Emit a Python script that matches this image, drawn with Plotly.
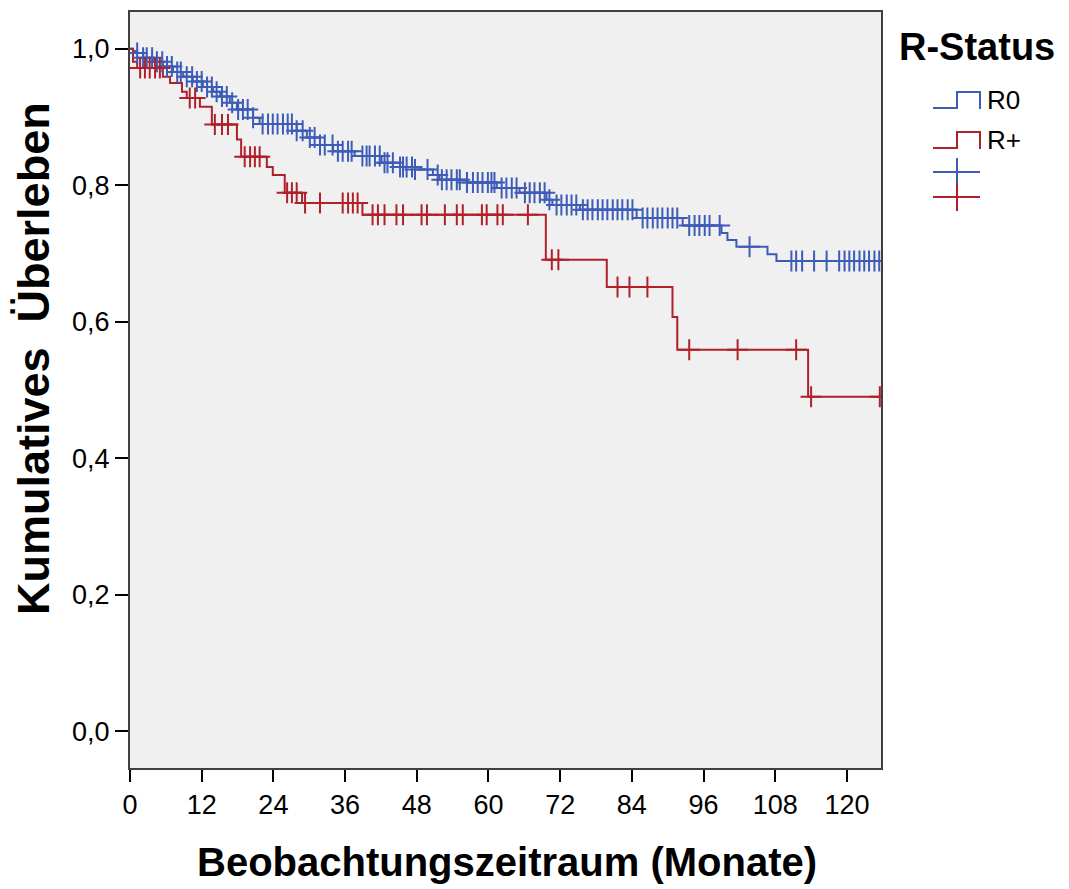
import numpy as np
import plotly.graph_objects as go

# ---- data (months, cumulative survival) ----
r0_times = [0, 0.5, 1.2, 2.2, 3.9, 5.5, 7.2, 8.9, 10.5, 12.2, 13.9, 15.1, 16.7, 17.9,
            20.6, 21.7, 27.9, 29.6, 31.8, 34.0, 37.6, 42.1, 45.2, 47.7, 50.7, 51.8,
            56.4, 61.4, 65.2, 69.7, 70.7, 75.3, 84.8, 92.5, 99.0, 100.0, 101.5,
            106.7, 108.2]
r0_surv = [1.0, 0.997, 0.994, 0.987, 0.981, 0.974, 0.966, 0.959, 0.952, 0.944, 0.937,
           0.930, 0.921, 0.911, 0.899, 0.890, 0.880, 0.870, 0.859, 0.850, 0.843, 0.833,
           0.827, 0.823, 0.815, 0.808, 0.804, 0.796, 0.789, 0.779, 0.771, 0.764, 0.752,
           0.741, 0.730, 0.720, 0.710, 0.699, 0.689]
r0_censored = [1.2, 2.2, 2.8, 3.7, 4.5, 5.4, 6.2, 7.0, 7.9, 8.5, 9.5, 10.4, 11.2, 12.0,
               12.9, 13.7, 14.5, 15.4, 16.2, 17.1, 18.1, 18.9, 19.7, 20.6, 22.2, 23.1,
               23.9, 24.7, 25.6, 26.4, 27.1, 27.9, 28.9, 30.1, 30.9, 31.8, 32.6, 33.9,
               34.8, 35.6, 36.5, 37.1, 38.9, 39.6, 40.1, 41.0, 41.8, 42.6, 43.1, 44.0,
               45.2, 45.7, 46.3, 47.2, 47.7, 49.8, 51.5, 52.2, 53.0, 53.8, 54.7, 55.2,
               56.4, 57.4, 58.2, 59.0, 59.9, 60.5, 61.0, 62.2, 63.0, 63.9, 64.7, 66.1,
               66.9, 67.7, 68.6, 69.4, 70.2, 71.4, 72.2, 73.1, 73.9, 74.7, 75.8, 76.6,
               77.4, 78.3, 79.1, 79.9, 80.8, 81.6, 82.4, 83.3, 84.1, 85.8, 86.6, 87.5,
               88.3, 89.1, 90.0, 90.8, 91.6, 93.6, 94.5, 95.3, 96.2, 97.0, 98.7, 103.7,
               110.7, 111.5, 112.5, 114.5, 116.6, 118.7, 119.6, 120.4, 121.2, 122.1,
               122.9, 123.7, 124.6, 125.4]

rp_times = [0, 0.5, 1.2, 5.5, 6.7, 8.7, 9.5, 11.7, 13.7, 17.9, 18.6, 22.9, 23.9, 25.9,
            28.8, 38.9, 69.6, 79.8, 90.8, 91.6, 113.5]
rp_surv = [1.0, 0.981, 0.972, 0.959, 0.950, 0.937, 0.928, 0.915, 0.889, 0.867, 0.842,
           0.827, 0.815, 0.789, 0.774, 0.757, 0.691, 0.651, 0.607, 0.559, 0.490]
rp_censored = [1.7, 2.5, 3.3, 4.2, 5.0, 10.0, 10.9, 14.2, 15.4, 16.4, 19.2, 20.1, 20.9,
               21.7, 26.3, 27.1, 27.9, 29.3, 31.8, 35.6, 36.5, 37.3, 38.1, 40.6, 41.5,
               42.6, 44.6, 45.7, 48.8, 49.7, 52.7, 54.7, 55.7, 58.9, 59.7, 61.5, 62.4,
               66.6, 70.6, 71.7, 81.6, 83.6, 86.6, 93.6, 101.7, 111.5, 114.0, 125.5]

groups = ["R0", "R+"]
follow_up_end = 125.5
x_ticks = [0, 12, 24, 36, 48, 60, 72, 84, 96, 108, 120]
y_ticks = [0.0, 0.2, 0.4, 0.6, 0.8, 1.0]
y_labels = ["0,0", "0,2", "0,4", "0,6", "0,8", "1,0"]

BLUE = "#3D5CB8"
RED = "#B0202A"
FONT = "Liberation Sans, Arial, sans-serif"

# figure geometry (page has an 8px body margin)
W, H = 1061, 881
ML, MR, MT, MB = 122, 188, 4, 121
PW, PH = W - ML - MR, H - MT - MB
OFF = 8


def px(x):  # page pixel -> paper x
    return (x - OFF - ML) / PW


def py(y):  # page pixel -> paper y
    return (H - MB - (y - OFF)) / PH


def step_value(times, surv, t):
    idx = np.searchsorted(np.asarray(times), np.asarray(t), side="right") - 1
    return np.asarray(surv)[idx]


fig = go.Figure()
for name, times, surv, col in [(groups[0], r0_times, r0_surv, BLUE),
                               (groups[1], rp_times, rp_surv, RED)]:
    fig.add_trace(go.Scatter(
        x=list(times) + [follow_up_end], y=list(surv) + [surv[-1]],
        mode="lines", line=dict(color=col, width=2, shape="hv"),
        name=name, showlegend=False))

for name, times, surv, cens, col in [(groups[0], r0_times, r0_surv, r0_censored, BLUE),
                                     (groups[1], rp_times, rp_surv, rp_censored, RED)]:
    fig.add_trace(go.Scatter(
        x=cens, y=step_value(times, surv, cens), mode="markers",
        marker=dict(symbol="cross-thin", size=15, color=col,
                    line=dict(color=col, width=2)),
        name=name + " zensiert", showlegend=False))

# ---- manual SPSS-style legend ----
ann = [dict(text="<b>R-Status</b>", x=px(897), y=py(47), xref="paper", yref="paper",
            xanchor="left", yanchor="middle", showarrow=False,
            font=dict(size=38, family=FONT, color="black"))]
shapes = []
for i, (name, col) in enumerate(zip(groups, [BLUE, RED])):
    yc = [100, 140][i]
    path_pts = [(933, yc + 8), (957, yc + 8), (957, yc - 8), (980, yc - 8), (980, yc + 9)]
    path = "M " + " L ".join(f"{px(a)},{py(b)}" for a, b in path_pts)
    shapes.append(dict(type="path", path=path, xref="paper", yref="paper",
                       line=dict(color=col, width=2)))
    ann.append(dict(text=name, x=px(985), y=py(yc), xref="paper", yref="paper",
                    xanchor="left", yanchor="middle", showarrow=False,
                    font=dict(size=26, family=FONT, color="black")))
for i, col in enumerate([BLUE, RED]):
    yc = [172, 197][i]
    shapes.append(dict(type="line", x0=px(933), x1=px(980), y0=py(yc), y1=py(yc),
                       xref="paper", yref="paper", line=dict(color=col, width=2)))
    shapes.append(dict(type="line", x0=px(957), x1=px(957), y0=py(yc - 14), y1=py(yc + 14),
                       xref="paper", yref="paper", line=dict(color=col, width=2)))

# axis titles
ann.append(dict(text="<b>Beobachtungszeitraum (Monate)</b>", x=px(507), y=py(862),
                xref="paper", yref="paper", xanchor="center", yanchor="middle",
                showarrow=False, font=dict(size=40, family=FONT, color="black")))
ann.append(dict(text="<b>Kumulatives  Überleben</b>", x=px(34), y=py(359),
                xref="paper", yref="paper", xanchor="center", yanchor="middle",
                textangle=-90, showarrow=False,
                font=dict(size=45, family=FONT, color="black")))

fig.update_layout(
    width=W, height=H,
    margin=dict(l=ML, r=MR, t=MT, b=MB),
    paper_bgcolor="white", plot_bgcolor="#F0F0F0",
    font=dict(family=FONT, color="black", size=27),
    showlegend=False, annotations=ann, shapes=shapes,
)
fig.update_xaxes(
    range=[0, 125.7], tickvals=x_ticks, ticks="outside", ticklen=12, tickwidth=1.5,
    tickcolor="black", showgrid=False, zeroline=False, showline=True, mirror=True,
    linecolor="#404040", linewidth=2, tickfont=dict(size=27), automargin=False)
fig.update_yaxes(
    range=[-0.054, 1.054], tickvals=y_ticks, ticktext=y_labels, ticks="outside", ticklen=13,
    tickwidth=1.5, tickcolor="black", showgrid=False, zeroline=False, showline=True,
    mirror=True, linecolor="#404040", linewidth=2, tickfont=dict(size=27), automargin=False)

fig.write_html("out.html")
